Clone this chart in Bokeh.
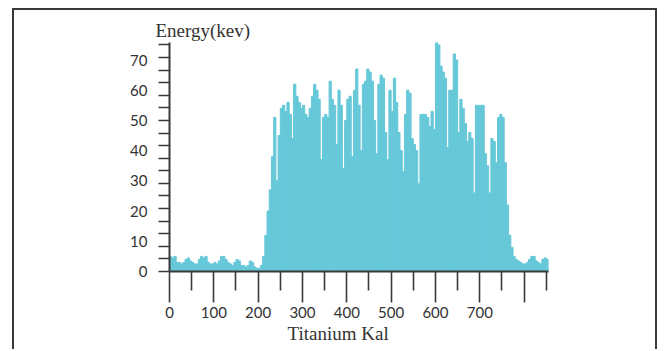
import numpy as np
from bokeh.plotting import figure
from bokeh.models import FixedTicker, Title, Range1d
from bokeh.embed import file_html
from bokeh.resources import INLINE

# ---- data ----
bin_width = 5
energy = [
    5, 4.5, 5, 3, 3, 2.5, 3, 4, 4.5, 3.5,
    3, 2.5, 2.5, 4, 5, 4.5, 5, 3, 2.5, 2.5,
    3, 2.5, 3.5, 5, 5, 4, 3, 2.5, 2, 3,
    4, 3.5, 2, 2, 1.5, 2, 3.5, 3, 1.5, 1,
    1, 2, 5, 12, 20, 27, 38, 51, 30, 45,
    54, 55, 53, 56, 52, 44, 62, 58, 56, 54,
    55, 52, 51, 54, 58, 62, 60, 57, 37, 51,
    52, 51, 63, 57, 55, 42, 60, 55, 34, 50,
    57, 58, 38, 60, 67, 55, 40, 62, 63, 67,
    66, 63, 50, 39, 62, 65, 64, 46, 37, 60,
    53, 64, 56, 46, 40, 33, 52, 60, 59, 44,
    42, 40, 29, 52, 52, 52, 51, 48, 53, 47,
    77, 75, 68, 66, 64, 41, 60, 60, 72, 70,
    46, 57, 54, 49, 43, 46, 44, 26, 55, 55,
    55, 55, 39, 35, 26, 44, 43, 36, 51, 52,
    51, 36, 22, 12, 8, 5, 4, 3.5, 3, 2.5,
    2.5, 3, 4, 5, 5, 3.5, 3, 2.5, 4, 4.5,
    4,
]
x_major = [0, 100, 200, 300, 400, 500, 600, 700, 800]
x_minor = [50, 150, 250, 350, 450, 550, 650, 750, 850]
x_labels = {800: ""}
y_major = [0, 10, 20, 30, 40, 50, 60, 70]
y_tick_top = 75
y_tick_count = 19
y_title = "Energy(kev)"
x_title = "Titanium Kal"

centers = [bin_width * i + bin_width / 2 for i in range(len(energy))]

BAR = "#66C8D8"
INK = "#3a3a3a"

p = figure(width=645, height=341, output_backend="svg", toolbar_location=None,
           x_range=Range1d(0, 855), y_range=Range1d(0, 75.8),
           min_border_left=155, min_border_right=111,
           min_border_top=32, min_border_bottom=80)
p.title.visible = False
p.styles = {"border-top": "2px solid #3a3a3a", "border-left": "2px solid #3a3a3a",
            "border-right": "2px solid #3a3a3a",
            "margin-left": "12px", "margin-top": "8px"}
p.outline_line_color = None
p.grid.visible = False
p.background_fill_color = "white"
p.border_fill_color = "white"

p.vbar(x=centers, top=energy, width=bin_width, bottom=0,
       fill_color=BAR, line_color=BAR, line_width=1)

# x axis
xa = p.xaxis[0]
xa.ticker = FixedTicker(ticks=x_major, minor_ticks=x_minor)
xa.major_label_overrides = x_labels
xa.axis_line_color = INK
xa.axis_line_width = 2
xa.major_tick_line_color = INK
xa.major_tick_line_width = 1.6
xa.major_tick_in = 0
xa.major_tick_out = 31
xa.minor_tick_line_color = INK
xa.minor_tick_line_width = 1.6
xa.minor_tick_in = 0
xa.minor_tick_out = 19
xa.major_label_standoff = 4
xa.major_label_text_font = "Lato"
xa.major_label_text_font_size = "15px"
xa.major_label_text_color = "#333333"

# y axis
ya = p.yaxis[0]
ya.ticker = FixedTicker(ticks=y_major,
                        minor_ticks=list(np.linspace(0, y_tick_top, y_tick_count)))
ya.axis_line_color = INK
ya.axis_line_width = 2
ya.major_tick_line_color = None
ya.major_tick_in = 0
ya.major_tick_out = 11
ya.minor_tick_line_color = INK
ya.minor_tick_line_width = 1.6
ya.minor_tick_in = 0
ya.minor_tick_out = 11
ya.major_label_standoff = 11
ya.major_label_text_font = "Lato"
ya.major_label_text_font_size = "15px"
ya.major_label_text_color = "#333333"

p.add_layout(Title(text=y_title, align="left", offset=-14, standoff=3,
                   text_font="Liberation Serif", text_font_size="19px",
                   text_font_style="normal", text_color="#333333"), "above")
p.add_layout(Title(text=x_title, align="left", offset=118, standoff=0,
                   text_font="Liberation Serif", text_font_size="19px",
                   text_font_style="normal", text_color="#333333"), "below")

open("out.html", "w").write(file_html(p, INLINE))
